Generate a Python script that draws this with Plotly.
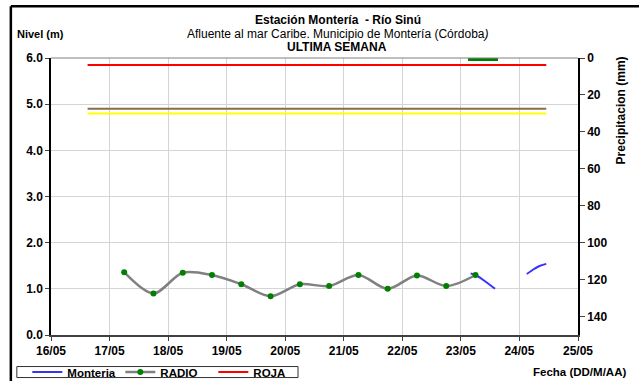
import plotly.graph_objects as go

# ---------------- data ----------------
radio_dates = ["2021-05-17 06:00", "2021-05-17 18:00", "2021-05-18 06:00", "2021-05-18 18:00",
               "2021-05-19 06:00", "2021-05-19 18:00", "2021-05-20 06:00", "2021-05-20 18:00",
               "2021-05-21 06:00", "2021-05-21 18:00", "2021-05-22 06:00", "2021-05-22 18:00",
               "2021-05-23 06:00"]
radio_levels = [1.36, 0.90, 1.35, 1.30, 1.10, 0.84, 1.10, 1.06, 1.30, 1.00, 1.29, 1.06, 1.30]

monteria_dates = ["2021-05-23 04:00", "2021-05-23 06:00", "2021-05-23 10:00", "2021-05-23 14:00",
                  "2021-05-23 20:00",
                  "2021-05-24 03:00", "2021-05-24 06:00", "2021-05-24 08:00", "2021-05-24 11:00"]
monteria_levels = [1.33, 1.30, 1.16, 1.00, None, 1.32, 1.43, 1.49, 1.54]

threshold_dates = ["2021-05-16 15:00", "2021-05-24 11:00"]
roja_level = 5.85
naranja_level = 4.90
amarilla_level = 4.80

precip_dates = ["2021-05-23 09:00"]
precip_mm = [1.4]

x_ticks = ["2021-05-16", "2021-05-17", "2021-05-18", "2021-05-19", "2021-05-20",
           "2021-05-21", "2021-05-22", "2021-05-23", "2021-05-24", "2021-05-25"]
x_labels = ["16/05", "17/05", "18/05", "19/05", "20/05", "21/05", "22/05", "23/05", "24/05", "25/05"]
y_ticks = [0, 1, 2, 3, 4, 5, 6]
y_labels = ["0.0", "1.0", "2.0", "3.0", "4.0", "5.0", "6.0"]
y2_ticks = [0, 20, 40, 60, 80, 100, 120, 140]

# ---------------- geometry ----------------
W, H = 639, 381
PL, PR, PT, PB = 50.7, 578.3, 58.3, 335.0
FONT = "Liberation Sans, Arial, sans-serif"


def px(x):
    return (x - PL) / (PR - PL)


def py(y):
    return (PB - y) / (PB - PT)


fig = go.Figure()

fig.add_trace(go.Bar(x=precip_dates, y=precip_mm, yaxis="y2", width=0.52 * 86400000,
                     marker=dict(color="#008000", line=dict(width=0)), showlegend=False,
                     hoverinfo="skip"))

fig.add_trace(go.Scatter(x=threshold_dates, y=[naranja_level] * 2, mode="lines",
                         line=dict(color="#8c6b4a", width=2), showlegend=False))
fig.add_trace(go.Scatter(x=threshold_dates, y=[amarilla_level] * 2, mode="lines",
                         line=dict(color="#ffff00", width=2), showlegend=False))

fig.add_trace(go.Scatter(x=monteria_dates, y=monteria_levels, mode="lines", name="<b>Monteria</b>",
                         line=dict(color="#3333ff", width=2, shape="spline"), connectgaps=False))
fig.add_trace(go.Scatter(x=radio_dates, y=radio_levels, mode="lines+markers", name="<b>RADIO</b>",
                         line=dict(color="#808080", width=2.5, shape="spline", smoothing=0.9),
                         marker=dict(color="#008000", size=6)))
fig.add_trace(go.Scatter(x=threshold_dates, y=[roja_level] * 2, mode="lines", name="<b>ROJA</b>",
                         line=dict(color="#ff0000", width=2)))

ann = [
    dict(text="<b>Estación Montería  - Río Sinú</b>", x=338, y=20, size=12),
    dict(text="Afluente al mar Caribe. Municipio de Montería (Córdoba<i>)</i>", x=338, y=34, size=12),
    dict(text="<b>ULTIMA SEMANA</b>", x=337, y=47.5, size=12),
    dict(text="<b>Nivel (m)</b>", x=40, y=34, size=11),
    dict(text="<b>Fecha (DD/M/AA)</b>", x=580, y=372, size=11.5),
]
annotations = []
for a in ann:
    annotations.append(dict(text=a["text"], x=px(a["x"]), y=py(a["y"]), xref="paper", yref="paper",
                            xanchor="center", yanchor="middle", showarrow=False,
                            font=dict(family=FONT, size=a["size"], color="black")))
annotations.append(dict(text="<b>Precipitacion (mm)</b>", x=px(621), y=py(111), xref="paper",
                        yref="paper", xanchor="center", yanchor="middle", showarrow=False,
                        textangle=-90, font=dict(family=FONT, size=12, color="black")))

shapes = [
    dict(type="line", xref="paper", yref="paper", x0=px(10.5), x1=px(645), y0=py(6.5), y1=py(6.5),
         line=dict(color="black", width=2.5)),
    dict(type="line", xref="paper", yref="paper", x0=px(10.5), x1=px(10.5), y0=py(6.5), y1=py(390),
         line=dict(color="black", width=2.5)),
    dict(type="line", xref="paper", yref="paper", x0=0, x1=1, y0=1, y1=1,
         line=dict(color="#808080", width=1)),
    # legend frame
    dict(type="rect", xref="paper", yref="paper", x0=px(16.5), x1=px(298), y0=py(366.5), y1=py(377.5),
         line=dict(color="#333333", width=1), fillcolor="rgba(0,0,0,0)", layer="below"),
]

fig.update_layout(
    width=W, height=H,
    margin=dict(l=PL, r=W - PR, t=PT, b=H - PB, pad=0, autoexpand=False),
    paper_bgcolor="white", plot_bgcolor="white",
    font=dict(family=FONT, size=11, color="black"),
    showlegend=True,
    legend=dict(orientation="h", x=px(27), y=py(357.5), xanchor="left", yanchor="top",
                borderwidth=0, bgcolor="rgba(0,0,0,0)",
                font=dict(family=FONT, size=11.5, color="black"),
                itemwidth=30, tracegroupgap=0, entrywidth=48, entrywidthmode="pixels"),
    xaxis=dict(type="date", range=["2021-05-16", "2021-05-25"], tickmode="array",
               tickvals=x_ticks, ticktext=x_labels, showgrid=True, gridcolor="#d4d4d4", gridwidth=1,
               showline=True, linecolor="#404040", linewidth=1.5, ticks="outside", ticklen=4,
               tickcolor="#404040", tickfont=dict(family=FONT, size=12, weight="bold"),
               zeroline=False, fixedrange=True),
    yaxis=dict(range=[0, 6], tickmode="array", tickvals=y_ticks, ticktext=y_labels, showgrid=True,
               gridcolor="#d4d4d4", gridwidth=1, showline=True, linecolor="black", linewidth=1.5,
               ticks="outside", ticklen=4, tickfont=dict(family=FONT, size=12, weight="bold"),
               zeroline=False),
    yaxis2=dict(overlaying="y", side="right", range=[150, 0], tickmode="array", tickvals=y2_ticks,
                showgrid=False, showline=True, linecolor="black", linewidth=1.5, ticks="outside",
                ticklen=5, tickfont=dict(family=FONT, size=12, weight="bold"), zeroline=False),
    bargap=0,
    annotations=annotations,
    shapes=shapes,
)

fig.write_html("out.html", config={"displayModeBar": False},
               post_script="document.body.style.margin='0px';")
